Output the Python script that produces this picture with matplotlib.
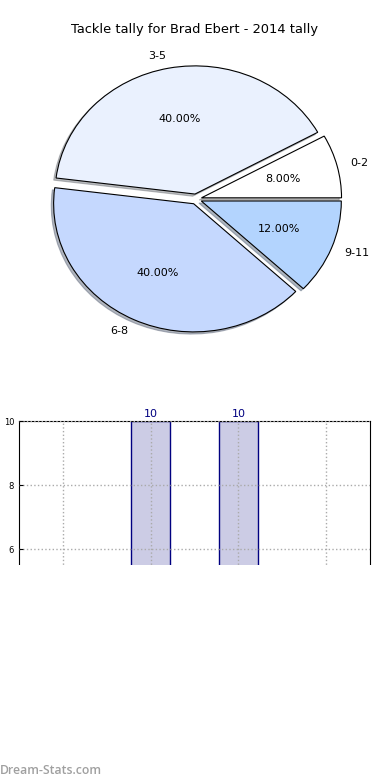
import matplotlib
matplotlib.use('Agg')
import matplotlib.pyplot as plt
from matplotlib.patches import Rectangle

# data
ranges = ['0-2', '3-5', '6-8', '9-11']
games = [2, 10, 10, 3]
pie_colors = ['#ffffff', '#eaf1fe', '#c5d8fe', '#b3d4fe']

fig = plt.figure(figsize=(3.9, 7.8), dpi=100)

# pie part
ax1 = fig.add_axes([0.1077, 0.564, 0.790, 0.3615])
wedges, texts, autotexts = ax1.pie(games, labels=ranges, colors=pie_colors,
                                   explode=[0.04] * 4,
                                   shadow={'ox': -0.012, 'oy': -0.012, 'shade': 0.5},
                                   autopct='%1.2f%%', startangle=0,
                                   wedgeprops={'linewidth': 0.8, 'edgecolor': 'black'},
                                   textprops={'fontsize': 8})
ax1.set_aspect('auto')
ax1.set_xlim(-1.1, 1.1)
ax1.set_ylim(-1.1, 1.1)
fig.text(0.5, 1 - 30 / 780, 'Tackle tally for Brad Ebert - 2014 tally',
         ha='center', va='center', fontsize=9.4)

# bar part (bottom half gets cut off like in the original)
ax2 = fig.add_axes([0.0487, 0.05, 0.9, 0.41])
x = list(range(len(ranges)))
bars = ax2.bar(x, games, width=0.45, color=(0, 0, 0.5, 0.2),
               edgecolor='navy', linewidth=1)
for b, v in zip(bars, games):
    ax2.text(b.get_x() + b.get_width() / 2, v + 0.08, str(v),
             ha='center', va='bottom', fontsize=8, color='navy')
ax2.set_xlim(-0.5, 3.5)
ax2.set_ylim(0, 10)
ax2.set_xticks(x)
ax2.set_xticklabels(ranges)
ax2.set_yticks([0, 2, 4, 6, 8, 10])
ax2.tick_params(labelsize=6, direction='in', length=3)
ax2.grid(True, linestyle=':', color='#aaaaaa', linewidth=1)
ax2.set_axisbelow(False)
ax2.set_ylabel('Games', fontsize=7, labelpad=2)

# white block hides lower part of bar chart
fig.patches.append(Rectangle((0, 0), 1, 1 - 565 / 780, transform=fig.transFigure,
                             facecolor='white', edgecolor='none', zorder=10))
fig.text(0.0, 1 - 771 / 780, 'Dream-Stats.com', ha='left', va='center',
         fontsize=8.8, color='#a0a0a0', family='Open Sans', fontweight='semibold',
         zorder=11)

fig.savefig('out.png', dpi=100)
